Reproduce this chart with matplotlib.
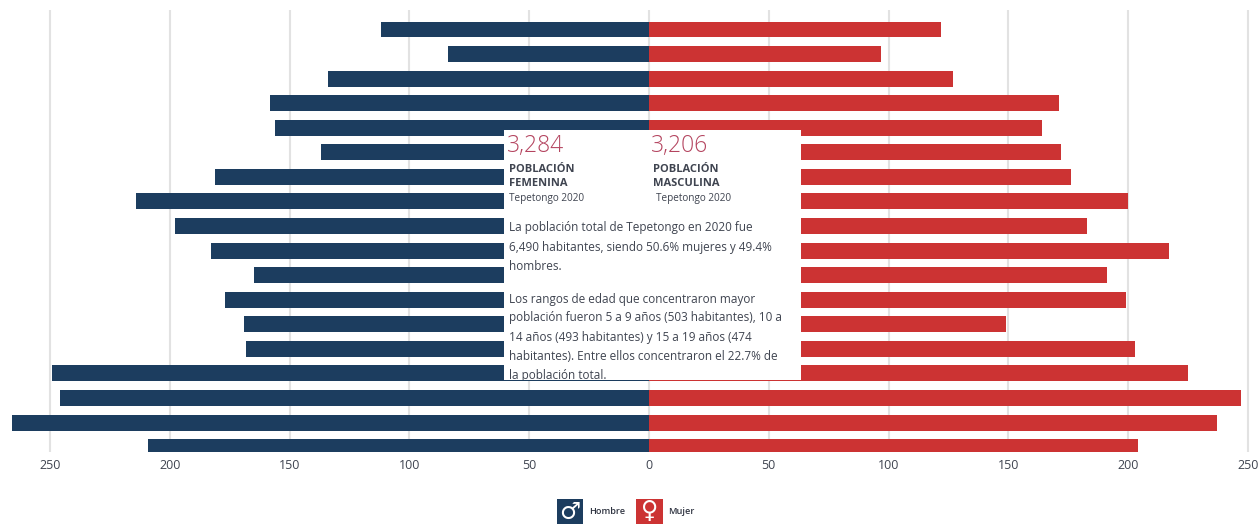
import matplotlib
matplotlib.use('Agg')
import matplotlib.pyplot as plt
from matplotlib.patches import Rectangle

plt.rcParams['font.family'] = ['Open Sans', 'DejaVu Sans']

hombres = [112, 84, 134, 158, 156, 137, 181, 214, 198, 183, 165, 177, 169, 168, 249, 246, 266, 209]
mujeres = [122, 97, 127, 171, 164, 172, 176, 200, 183, 217, 191, 199, 149, 203, 225, 247, 237, 204]
ticks = [-250, -200, -150, -100, -50, 0, 50, 100, 150, 200, 250]
tick_labels = ['250', '200', '150', '100', '50', '0', '50', '100', '150', '200', '250']

W, H = 1259, 524
NAVY = '#1c3d5f'
RED = '#cc3333'
GRAY = '#3f4450'
ROSE = '#b4445f'

def px(x, y):
    return x / W, 1 - y / H

fig = plt.figure(figsize=(W / 100, H / 100), dpi=100)
ax = fig.add_axes([0, 1 - 452 / H, 1, (452 - 10) / H])

filas = list(range(len(hombres)))
ax.barh(filas, [-v for v in hombres], height=0.65, color=NAVY, zorder=3)
ax.barh(filas, mujeres, height=0.65, color=RED, zorder=3)

ax.set_xlim(-649 / 2.396, 610 / 2.396)
ax.set_ylim(17.2, -0.794)
ax.set_xticks(ticks)
ax.set_xticklabels(tick_labels, fontsize=9, color=GRAY)
ax.set_yticks([])
ax.tick_params(axis='x', length=0, pad=5)
ax.grid(axis='x', color='#e2e2e2', lw=1.5, zorder=0)
ax.set_axisbelow(True)
for s in ax.spines.values():
    s.set_visible(False)

# white box over the middle of the pyramid
caja = Rectangle(px(504, 380), 297 / W, 250 / H, transform=fig.transFigure,
                 facecolor='white', edgecolor='none', zorder=5)
fig.add_artist(caja)

def texto(x, y, s, **kw):
    t = fig.text(*px(x, y), s, va='center', ha='left', zorder=6, **kw)
    return t

texto(507, 146, '3,284', fontsize=16.5, color=ROSE, fontweight='light')
texto(651, 146, '3,206', fontsize=16.5, color=ROSE, fontweight='light')
texto(509, 169, 'POBLACIÓN', fontsize=8, color=GRAY, fontweight='bold')
texto(509, 183, 'FEMENINA', fontsize=8, color=GRAY, fontweight='bold')
texto(653, 169, 'POBLACIÓN', fontsize=8, color=GRAY, fontweight='bold')
texto(653, 183, 'MASCULINA', fontsize=8, color=GRAY, fontweight='bold')
texto(509, 198, 'Tepetongo 2020', fontsize=7.2, color=GRAY)
texto(656, 198, 'Tepetongo 2020', fontsize=7.2, color=GRAY)

lineas = [
    (228, 'La población total de Tepetongo en 2020 fue'),
    (247, '6,490 habitantes, siendo 50.6% mujeres y 49.4%'),
    (266, 'hombres.'),
    (300, 'Los rangos de edad que concentraron mayor'),
    (318, 'población fueron 5 a 9 años (503 habitantes), 10 a'),
    (338, '14 años (493 habitantes) y 15 a 19 años (474'),
    (356, 'habitantes). Entre ellos concentraron el 22.7% de'),
    (376, 'la población total.'),
]
for y, s in lineas:
    t = texto(509, y, s, fontsize=8.45, color=GRAY)
    t.set_clip_path(caja)

# legend
fig.add_artist(Rectangle(px(557, 524), 26 / W, 25 / H, transform=fig.transFigure, facecolor=NAVY, edgecolor='none'))
fig.add_artist(Rectangle(px(636, 524), 27 / W, 25 / H, transform=fig.transFigure, facecolor=RED, edgecolor='none'))
fig.text(*px(570, 512), '♂', color='white', fontsize=17, ha='center', va='center',
         family='DejaVu Sans', fontweight='bold')
fig.text(*px(649.5, 511), '♀', color='white', fontsize=17, ha='center', va='center',
         family='DejaVu Sans', fontweight='bold')
texto(589, 511, 'Hombre', fontsize=6.6, color='#2e3340', fontweight='semibold')
texto(668, 511, 'Mujer', fontsize=6.6, color='#2e3340', fontweight='semibold')

fig.savefig('out.png', dpi=100)
